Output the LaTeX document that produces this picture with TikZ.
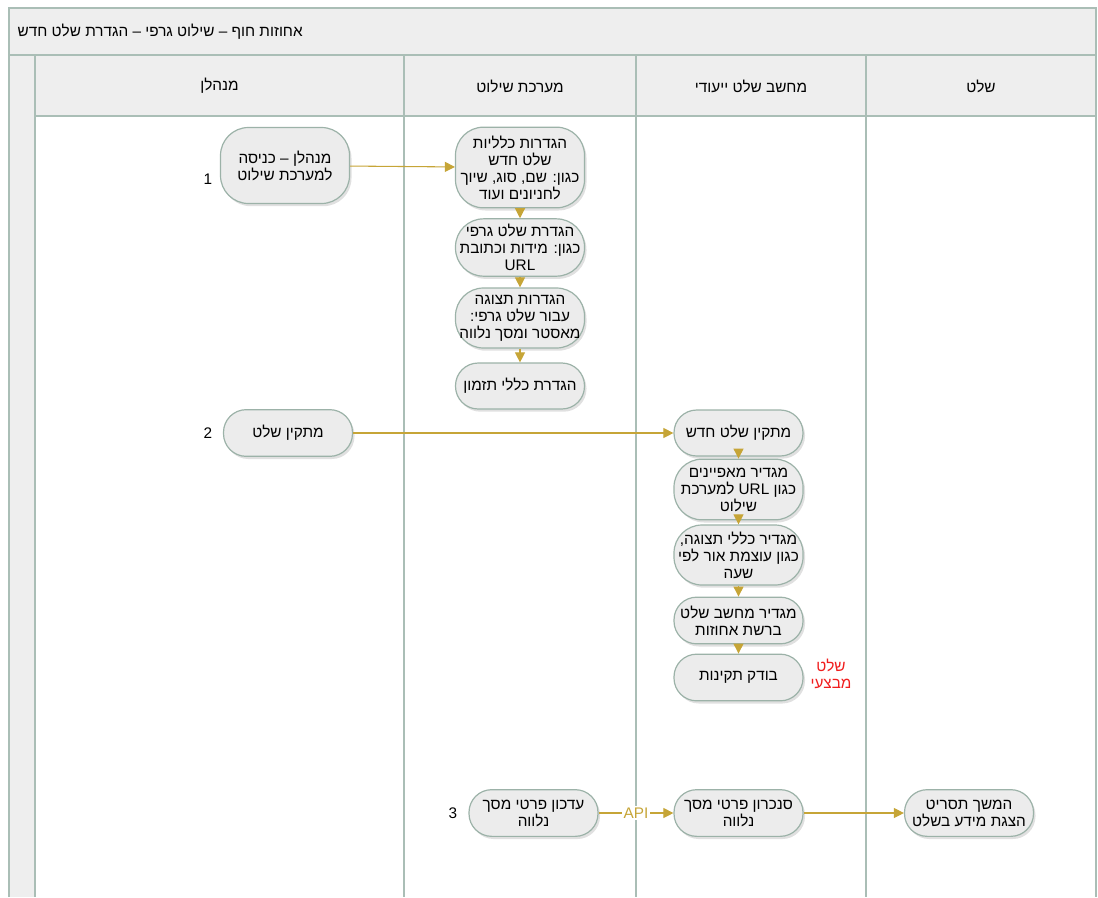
\documentclass[tikz,border=0pt]{standalone}
\usepackage{fontspec}
\setmainfont{Liberation Sans}[Script=Hebrew]
\TeXXeTstate=1
\usetikzlibrary{arrows.meta,shadows}
\newcommand{\RL}[1]{\beginR #1\endR}
\definecolor{boxfill}{RGB}{236,236,236}
\definecolor{boxline}{RGB}{156,178,168}
\definecolor{laneline}{RGB}{170,190,182}
\definecolor{hdrfill}{RGB}{238,238,238}
\definecolor{gold}{RGB}{198,165,55}
\definecolor{redtxt}{RGB}{240,30,30}
\begin{document}
\begin{tikzpicture}[x=0.75pt,y=-0.75pt,
  font=\fontsize{11.5}{12.75}\selectfont,
  proc/.style={draw=boxline, line width=0.9pt, fill=boxfill, rounded corners=17pt,
    minimum width=96.75pt, align=center, inner sep=0pt,
    drop shadow={shadow xshift=1.5pt, shadow yshift=-2pt, fill=black, opacity=0.12}},
  tall/.style={rounded corners=21pt},
  flow/.style={draw=gold, line width=0.8pt, -{Triangle[length=7.5pt,width=7.5pt]}},
  lane/.style={draw=laneline, line width=1.1pt},
  hdr/.style={anchor=center},
  num/.style={anchor=center}]
\useasboundingbox (0,0) rectangle (1098,897);
% background bands
\fill[hdrfill] (9,8) rectangle (1096,116);
\fill[hdrfill] (9,116) rectangle (35,897);
\draw[lane] (9,897) -- (9,8) -- (1096,8) -- (1096,897);
\draw[lane] (9,55) -- (1096,55);
\draw[lane] (35,116) -- (1096,116);
\draw[lane] (35,55) -- (35,897);
\draw[lane] (404,55) -- (404,897);
\draw[lane] (636,55) -- (636,897);
\draw[lane] (866,55) -- (866,897);
% title and headers
\node[anchor=west] (title) at (13,32) {\RL{אחוזות חוף – שילוט גרפי – הגדרת שלט חדש}};
\node[hdr] (h1) at (219.5,86) {\RL{מנהלן}};
\node[hdr] (h2) at (520,86) {\RL{מערכת שילוט}};
\node[hdr] (h3) at (751,86) {\RL{מחשב שלט ייעודי}};
\node[hdr] (h4) at (981,86) {\RL{שלט}};
% lane 1
\node[proc, tall, minimum height=57pt] (n1) at (285,165.5) {\RL{מנהלן – כניסה}\\\RL{למערכת שילוט}};
\node[num] (l1) at (208,179) {1};
\node[proc, minimum height=35pt] (n2) at (288,433) {\RL{מתקין שלט}};
\node[num] (l2) at (208,433) {2};
% lane 2
\node[proc, tall, minimum height=60.5pt] (a1) at (520,167.5) {\RL{הגדרות כלליות}\\\RL{שלט חדש}\\\RL{כגון: שם, סוג, שיוך}\\\RL{לחניונים ועוד}};
\node[proc, tall, minimum height=43pt] (a2) at (520,247.5) {\RL{הגדרת שלט גרפי}\\\RL{כגון: מידות וכתובת}\\\RL{URL}};
\node[proc, tall, minimum height=45pt] (a3) at (520,318) {\RL{הגדרות תצוגה}\\\RL{עבור שלט גרפי:}\\\RL{מאסטר ומסך נלווה}};
\node[proc, minimum height=34.5pt] (a4) at (520,386) {\RL{הגדרת כללי תזמון}};
\node[proc, minimum height=35pt] (n3) at (533.5,813) {\RL{עדכון פרטי מסך}\\\RL{נלווה}};
\node[num] (l3) at (453,813) {3};
% lane 3
\node[proc, minimum height=34.5pt] (b1) at (738.5,433) {\RL{מתקין שלט חדש}};
\node[proc, tall, minimum height=45.5pt] (b2) at (738.5,489.5) {\RL{מגדיר מאפיינים}\\\RL{כגון URL למערכת}\\\RL{שילוט}};
\node[proc, tall, minimum height=45pt] (b3) at (738.5,555) {\RL{מגדיר כללי תצוגה,}\\\RL{כגון עוצמת אור לפי}\\\RL{שעה}};
\node[proc, minimum height=35pt] (b4) at (738.5,620.5) {\RL{מגדיר מחשב שלט}\\\RL{ברשת אחוזות}};
\node[proc, minimum height=35pt] (b5) at (738.5,677.5) {\RL{בודק תקינות}};
\node[text=redtxt, align=center] (op) at (831,674) {\RL{שלט}\\\RL{מבצעי}};
\node[proc, minimum height=35pt] (b6) at (738.5,813) {\RL{סנכרון פרטי מסך}\\\RL{נלווה}};
% lane 4
\node[proc, minimum height=35pt] (c1) at (969,813) {\RL{המשך תסריט}\\\RL{הצגת מידע בשלט}};
% connectors
\draw[flow] (n1) -- (a1);
\draw[flow] (a1.south) -- (a2.north);
\draw[flow] (a2.south) -- (a3.north);
\draw[flow] (a3.south) -- (a4.north);
\draw[flow] (n2) -- (b1);
\draw[flow] (b1.south) -- (b2.north);
\draw[flow] (b2.south) -- (b3.north);
\draw[flow] (b3.south) -- (b4.north);
\draw[flow] (b4.south) -- (b5.north);
\draw[flow] (n3) -- node[fill=white, text=gold, inner sep=1pt] (api) {API} (b6);
\draw[flow] (b6) -- (c1);
\end{tikzpicture}
\end{document}
